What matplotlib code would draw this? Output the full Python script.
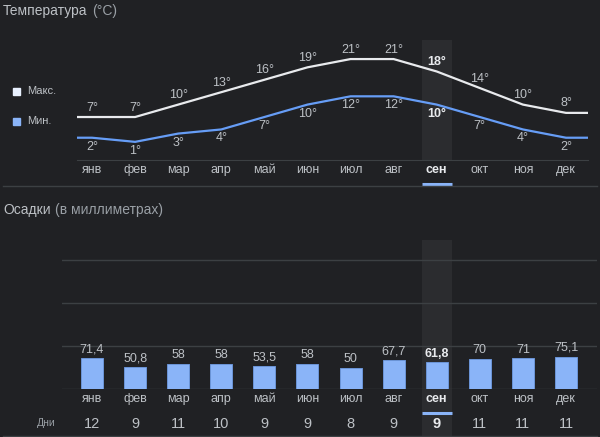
import matplotlib
matplotlib.use("Agg")
import matplotlib.pyplot as plt
from matplotlib.lines import Line2D
import numpy as np

plt.rcParams['font.family'] = ['Liberation Sans', 'DejaVu Sans']

# data
months = ["янв", "фев", "мар", "апр", "май", "июн", "июл", "авг", "сен", "окт", "ноя", "дек"]
t_max = [7, 7, 10, 13, 16, 19, 21, 21, 18, 14, 10, 8]
t_min = [2, 1, 3, 4, 7, 10, 12, 12, 10, 7, 4, 2]
rain = [71.4, 50.8, 58, 58, 53.5, 58, 50, 67.7, 61.8, 70, 71, 75.1]
rain_labels = ["71,4", "50,8", "58", "58", "53,5", "58", "50", "67,7", "61,8", "70", "71", "75,1"]
rain_days = [12, 9, 11, 10, 9, 9, 8, 9, 9, 11, 11, 11]
sel = 8  # сен

BG = "#202124"
TXT = "#bdc1c6"
DIM = "#9aa0a6"
GRID = "#3c4043"
HL = "#2b2c2f"
BLUE = "#8ab4f8"
FS = 9

W, H = 600, 437
fig = plt.figure(figsize=(W / 100, H / 100), dpi=100, facecolor=BG)


def px_rect(x0, y0, x1, y1):
    return [x0 / W, 1 - y1 / H, (x1 - x0) / W, (y1 - y0) / H]


def title(y, main, sub):
    t = fig.text(3 / W, 1 - y / H, main, color=TXT, fontsize=10, va="center", ha="left")
    fig.text(0, 0, "")
    plt.annotate(sub, xy=(1, 0.5), xycoords=t, xytext=(3, 0), textcoords="offset points",
                 color=DIM, fontsize=10, va="center", ha="left", annotation_clip=False)


step = 43.09  # px per month, first month at x=92
x = np.arange(12)

# ---- temperature ----
ax = fig.add_axes(px_rect(77, 40, 588, 160))
ax.set_facecolor("none")
ax.set_xlim((77 - 92) / step, 11 + (588 - 566) / step)
ax.set_ylim((146 - 160) / 4.14, (146 - 40) / 4.14)
for s in ["top", "left", "right"]:
    ax.spines[s].set_visible(False)
ax.spines["bottom"].set_color(GRID)
ax.set_xticks([])
ax.set_yticks([])
x0, x1 = ax.get_xlim()

ax.axvspan(sel - 0.35, sel + 0.35, color=HL, zorder=0, lw=0)
xe = np.concatenate([[x0], x, [x1]])
ax.plot(xe, [t_max[0]] + t_max + [t_max[-1]], color="#e8eaed", lw=1.6, solid_capstyle="butt")
ax.plot(xe, [t_min[0]] + t_min + [t_min[-1]], color="#669df6", lw=1.6, solid_capstyle="butt")
for i in x:
    bold = "bold" if i == sel else "normal"
    col = "#e8eaed" if i == sel else TXT
    ax.annotate(f"{t_max[i]}°", (i, t_max[i]), xytext=(0, 6.8), textcoords="offset points",
                ha="center", va="center", fontsize=FS, color=col, fontweight=bold)
    ax.annotate(f"{t_min[i]}°", (i, t_min[i]), xytext=(0, -6.5), textcoords="offset points",
                ha="center", va="center", fontsize=FS, color=col, fontweight=bold)
    ax.text(i, -10 / 120, months[i], transform=ax.get_xaxis_transform(), ha="center", va="center",
            fontsize=FS, color=col, fontweight=bold, clip_on=False)
ax.plot([sel - 0.35, sel + 0.35], [-24 / 120] * 2, transform=ax.get_xaxis_transform(),
        color=BLUE, lw=2.2, solid_capstyle="butt", clip_on=False)

title(11, "Температура", "(°C)")
fig.patches.append(plt.Rectangle((13 / W, 1 - 94.5 / H), 7 / W, 7 / H, color="#e8f0fe",
                                 transform=fig.transFigure))
fig.patches.append(plt.Rectangle((13 / W, 1 - 124.5 / H), 7 / W, 7 / H, color=BLUE,
                                 transform=fig.transFigure))
fig.text(27 / W, 1 - 91 / H, "Макс.", color=TXT, fontsize=8, va="center")
fig.text(27 / W, 1 - 121 / H, "Мин.", color=TXT, fontsize=8, va="center")

fig.add_artist(Line2D([3 / W, 597 / W], [1 - 186 / H] * 2, color=GRID, lw=1))

# ---- precipitation ----
bx = fig.add_axes(px_rect(62, 240, 597, 389))
bx.set_facecolor("none")
bx.set_xlim((62 - 92) / step, 11 + (597 - 566) / step)
bx.set_ylim(0, 149 / 0.43)
for s in bx.spines.values():
    s.set_visible(False)
bx.set_xticks([])
bx.set_yticks([])
for g in [0, 100, 200, 300]:
    bx.axhline(g, color=GRID, lw=1, zorder=1)
bx.axvspan(sel - 0.35, sel + 0.35, ymin=-48 / 149, ymax=1, color=HL, zorder=0, lw=0, clip_on=False)
bx.bar(x, rain, width=0.51, color=BLUE, edgecolor="#6b95d8", lw=0.7, zorder=2)
tr = bx.get_xaxis_transform()
for i in x:
    bold = "bold" if i == sel else "normal"
    col = "#e8eaed" if i == sel else TXT
    bx.annotate(rain_labels[i], (i, rain[i]), xytext=(0, 6.3), textcoords="offset points",
                ha="center", va="center", fontsize=FS, color=col, fontweight=bold)
    bx.text(i, -10 / 149, months[i], transform=tr, ha="center", va="center",
            fontsize=FS, color=col, fontweight=bold, clip_on=False)
    bx.text(i, -35 / 149, str(rain_days[i]), transform=tr, ha="center", va="center",
            fontsize=10.5, color="#e8eaed" if i == sel else TXT, fontweight=bold, clip_on=False)
bx.plot([sel - 0.35, sel + 0.35], [-24 / 149] * 2, transform=tr,
        color=BLUE, lw=2.2, solid_capstyle="butt", clip_on=False)

title(210, "Осадки", "(в миллиметрах)")
fig.text(46 / W, 1 - 423 / H, "Дни", color=DIM, fontsize=7.5, va="center", ha="center")
fig.add_artist(Line2D([3 / W, 597 / W], [1 - 436 / H] * 2, color=GRID, lw=1))

fig.savefig("out.png", dpi=100, facecolor=BG)
